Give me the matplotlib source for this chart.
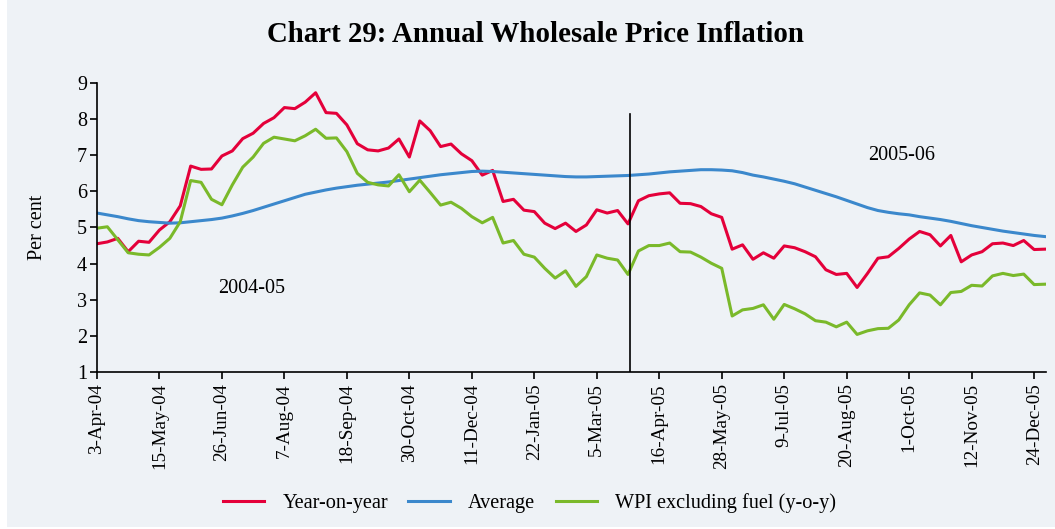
# Chart 29: Annual Wholesale Price Inflation (weekly, Apr-2004 to Dec-2005)

import pandas as pd
import matplotlib.pyplot as plt
import matplotlib.patches as mpatches

plt.rcParams['font.family'] = ['Liberation Serif', 'DejaVu Serif']

# weekly dates starting 3-Apr-2004
start_date = '2004-04-03'
n_weeks = 92

year_on_year = [
    4.55, 4.60, 4.70, 4.33, 4.62, 4.59, 4.93, 5.16, 5.60, 6.70,
    6.61, 6.62, 6.98, 7.12, 7.46, 7.61, 7.88, 8.04, 8.32, 8.29,
    8.47, 8.73, 8.18, 8.16, 7.84, 7.32, 7.15, 7.12, 7.20, 7.45,
    6.95, 7.95, 7.68, 7.24, 7.31, 7.04, 6.85, 6.45, 6.58, 5.72,
    5.78, 5.48, 5.44, 5.12, 4.97, 5.12, 4.89, 5.07, 5.49, 5.40,
    5.47, 5.10, 5.74, 5.88, 5.93, 5.96, 5.67, 5.66, 5.58, 5.38,
    5.28, 4.40, 4.52, 4.12, 4.30, 4.15, 4.49, 4.44, 4.33, 4.19,
    3.83, 3.70, 3.73, 3.34, 3.73, 4.15, 4.19, 4.42, 4.68, 4.89,
    4.80, 4.49, 4.78, 4.05, 4.24, 4.33, 4.55, 4.57, 4.50, 4.64,
    4.39, 4.40,
]

average = [
    5.40, 5.35, 5.30, 5.24, 5.19, 5.16, 5.14, 5.12, 5.13, 5.16,
    5.19, 5.22, 5.26, 5.32, 5.39, 5.47, 5.56, 5.65, 5.74, 5.83,
    5.92, 5.98, 6.04, 6.09, 6.13, 6.17, 6.20, 6.23, 6.26, 6.30,
    6.34, 6.38, 6.42, 6.46, 6.49, 6.52, 6.55, 6.56, 6.55, 6.53,
    6.51, 6.49, 6.47, 6.45, 6.43, 6.41, 6.40, 6.40, 6.41, 6.42,
    6.43, 6.44, 6.46, 6.48, 6.51, 6.54, 6.56, 6.58, 6.60, 6.60,
    6.59, 6.57, 6.52, 6.45, 6.40, 6.34, 6.28, 6.21, 6.12, 6.03,
    5.94, 5.85, 5.75, 5.65, 5.55, 5.47, 5.42, 5.38, 5.35, 5.30,
    5.26, 5.22, 5.17, 5.11, 5.05, 5.00, 4.95, 4.90, 4.86, 4.82,
    4.78, 4.75,
]

wpi_ex_fuel = [
    4.98, 5.02, 4.66, 4.30, 4.26, 4.24, 4.45, 4.70, 5.16, 6.30,
    6.25, 5.78, 5.63, 6.18, 6.67, 6.95, 7.33, 7.50, 7.45, 7.40,
    7.54, 7.72, 7.47, 7.48, 7.10, 6.50, 6.25, 6.18, 6.15, 6.46,
    5.99, 6.31, 5.97, 5.62, 5.70, 5.53, 5.30, 5.13, 5.28, 4.57,
    4.64, 4.26, 4.18, 3.87, 3.60, 3.80, 3.37, 3.64, 4.24, 4.15,
    4.10, 3.70, 4.35, 4.50, 4.50, 4.57, 4.33, 4.32, 4.18, 4.01,
    3.87, 2.55, 2.72, 2.76, 2.86, 2.46, 2.87, 2.75, 2.61, 2.42,
    2.38, 2.25, 2.38, 2.04, 2.14, 2.20, 2.21, 2.44, 2.86, 3.19,
    3.13, 2.86, 3.20, 3.23, 3.40, 3.38, 3.66, 3.73, 3.67, 3.71,
    3.42, 3.43,
]

tick_dates = ['2004-04-03', '2004-05-15', '2004-06-26', '2004-08-07',
              '2004-09-18', '2004-10-30', '2004-12-11', '2005-01-22',
              '2005-03-05', '2005-04-16', '2005-05-28', '2005-07-09',
              '2005-08-20', '2005-10-01', '2005-11-12', '2005-12-24']
tick_labels = ['3-Apr-04', '15-May-04', '26-Jun-04', '7-Aug-04',
               '18-Sep-04', '30-Oct-04', '11-Dec-04', '22-Jan-05',
               '5-Mar-05', '16-Apr-05', '28-May-05', '9-Jul-05',
               '20-Aug-05', '1-Oct-05', '12-Nov-05', '24-Dec-05']

year_break = '2005-03-27'

dates = pd.date_range(start_date, periods=n_weeks, freq='7D')
df = pd.DataFrame({'yoy': year_on_year, 'avg': average, 'wpi': wpi_ex_fuel},
                  index=dates)

bg = '#eef2f6'
fig = plt.figure(figsize=(10.55, 5.29), dpi=100, facecolor='white')
fig.patches.append(mpatches.Rectangle((0.007, 0.004), 0.993, 0.996,
                                      transform=fig.transFigure,
                                      facecolor=bg, edgecolor='none', zorder=-10))
ax = fig.add_axes([0.0919, 0.2968, 0.8996, 0.5463])
ax.set_facecolor(bg)

ax.plot(df.index, df['yoy'], color='#e4003a', lw=2.2, label='Year-on-year')
ax.plot(df.index, df['avg'], color='#3b88cc', lw=2.2, label='Average')
ax.plot(df.index, df['wpi'], color='#7ab92a', lw=2.2,
        label='WPI excluding fuel (y-o-y)')

# separator between the two financial years
ax.plot([pd.Timestamp(year_break)] * 2, [1, 8.15], color='black', lw=1.2)

ax.text(pd.Timestamp('2004-07-16'), 3.3, '2004-05', fontsize=14.5,
        ha='center', va='center')
ax.text(pd.Timestamp('2005-09-26'), 7.0, '2005-06', fontsize=14.5,
        ha='center', va='center')

ax.set_xlim(df.index[0], df.index[-1] + pd.Timedelta(days=1))
ax.set_ylim(1, 9)
ax.set_yticks(range(1, 10))
ax.set_xticks(pd.to_datetime(tick_dates))
ax.set_xticklabels(tick_labels, rotation=90, fontsize=13.8)
ax.tick_params(axis='y', labelsize=14.5, length=5, width=1.2, pad=2)
ax.tick_params(axis='x', length=5, width=1.2, pad=3)
for side in ['top', 'right']:
    ax.spines[side].set_visible(False)
for side in ['left', 'bottom']:
    ax.spines[side].set_linewidth(1.2)

ax.set_ylabel('Per cent', fontsize=14.5, labelpad=22)

fig.text(0.508, 0.935, 'Chart 29: Annual Wholesale Price Inflation',
         fontsize=20.8, fontweight='bold', ha='center', va='center')

leg = ax.legend(loc='center', ncol=3, frameon=False, fontsize=14.6,
                handlelength=2.05, columnspacing=1.0, handletextpad=0.9)
leg.set_bbox_to_anchor((0.502, 0.049), transform=fig.transFigure)

fig.savefig('out.png', dpi=100, facecolor=fig.get_facecolor())
